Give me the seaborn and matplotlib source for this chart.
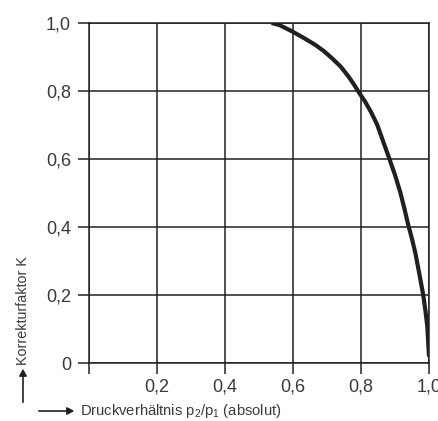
import matplotlib
matplotlib.use("Agg")
import matplotlib.pyplot as plt
import seaborn as sns
import pandas as pd
from matplotlib import font_manager

# Data
pressure_ratio = [0.537, 0.56, 0.598, 0.63, 0.665, 0.69, 0.714, 0.74, 0.763, 0.78, 0.797,
                  0.812, 0.83, 0.848, 0.865, 0.883, 0.90, 0.915, 0.927, 0.938, 0.95,
                  0.96, 0.972, 0.983, 0.99, 0.995, 1.0]
k_factor = [1.0, 0.994, 0.975, 0.957, 0.936, 0.918, 0.897, 0.872, 0.843, 0.818, 0.791,
            0.769, 0.737, 0.70, 0.652, 0.602, 0.553, 0.504, 0.457, 0.41, 0.365,
            0.323, 0.26, 0.20, 0.15, 0.107, 0.019]
x_ticks = [0, 0.2, 0.4, 0.6, 0.8, 1.0]
x_tick_labels = ["", "0,2", "0,4", "0,6", "0,8", "1,0"]
y_ticks = [0, 0.2, 0.4, 0.6, 0.8, 1.0]
y_tick_labels = ["0", "0,2", "0,4", "0,6", "0,8", "1,0"]
x_label = "Druckverhältnis p$_2$/p$_1$ (absolut)"
y_label = "Korrekturfaktor K"

sns.set_theme(style="white")
names = {f.name for f in font_manager.fontManager.ttflist}
main_font = "Liberation Sans Narrow" if "Liberation Sans Narrow" in names else "Liberation Sans"
plt.rcParams["font.family"] = [main_font, "DejaVu Sans"]
plt.rcParams["mathtext.fontset"] = "custom"
plt.rcParams["mathtext.rm"] = main_font
plt.rcParams["mathtext.it"] = main_font

ink = "#231f20"
txt = "#3a3a3a"

df = pd.DataFrame({"x": pressure_ratio, "K": k_factor})

fig = plt.figure(figsize=(4.39, 4.21), dpi=100)
ax = fig.add_axes([89 / 439, 1 - 363 / 421, 340 / 439, 340 / 421])

sns.lineplot(data=df, x="x", y="K", ax=ax, color=ink, linewidth=3.0, sort=False, zorder=5)
for ln in ax.get_lines():
    ln.set_solid_capstyle("butt")
    ln.set_solid_joinstyle("round")

ax.set_xlim(0, 1)
ax.set_ylim(0, 1)
ax.set_xticks(x_ticks)
ax.set_xticklabels(x_tick_labels)
ax.set_yticks(y_ticks)
ax.set_yticklabels(y_tick_labels)
ax.grid(True, color=ink, linewidth=1.1)
for s in ax.spines.values():
    s.set_visible(True)
    s.set_color(ink)
    s.set_linewidth(1.1)
ax.tick_params(axis="both", direction="out", length=8, width=1.1, color=ink,
               labelsize=13, labelcolor=txt, bottom=True, left=True)
ax.tick_params(axis="y", pad=5)
ax.tick_params(axis="x", pad=3)
ax.set_xlabel("")
ax.set_ylabel("")

# axis labels with arrows (figure pixel coordinates)
W, H = 439, 421
fig.text(80 / W, 1 - 411 / H, x_label, fontsize=10.6, color=txt, ha="left", va="center")
fig.text(23 / W, 1 - 311 / H, y_label, fontsize=10.3, color=txt, ha="center", va="center", rotation=90)
fig.add_artist(matplotlib.patches.FancyArrowPatch(
    (36 / W, 1 - 411 / H), (77 / W, 1 - 411 / H), transform=fig.transFigure,
    arrowstyle="-|>,head_length=4,head_width=2.2", color=ink, linewidth=1.2))
fig.add_artist(matplotlib.patches.FancyArrowPatch(
    (23 / W, 1 - 405 / H), (23 / W, 1 - 366 / H), transform=fig.transFigure,
    arrowstyle="-|>,head_length=4,head_width=2.2", color=ink, linewidth=1.2))

fig.savefig("out.png", dpi=100)
